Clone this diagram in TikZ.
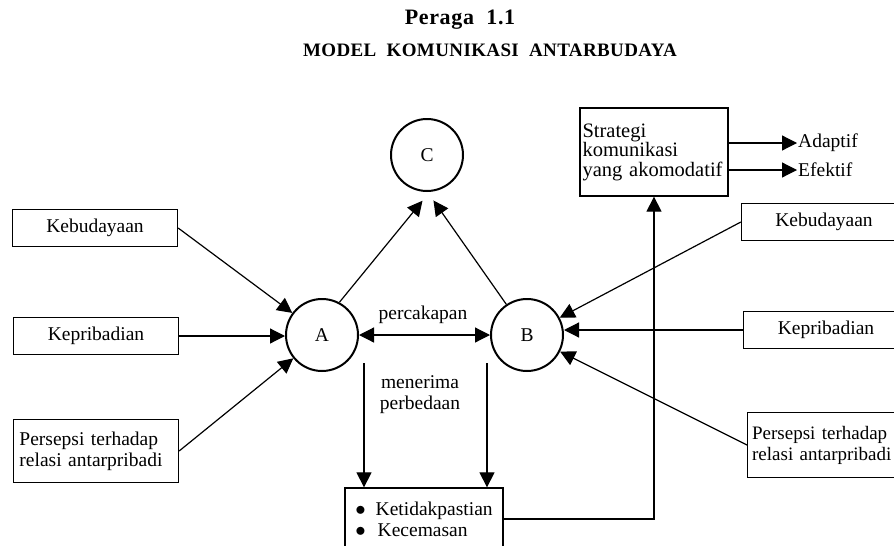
\documentclass[tikz,border=0pt]{standalone}
\usepackage{fontspec}
\setmainfont{Liberation Serif}
\usetikzlibrary{arrows.meta,positioning}

\begin{document}
\begin{tikzpicture}[x=1pt,y=-1pt,
  font=\fontsize{19.5}{21}\selectfont,
  box/.style={draw, line width=1.3pt, minimum width=165pt, minimum height=37pt, inner sep=4pt},
  circ/.style={draw, circle, line width=2pt, minimum size=72pt, inner sep=0pt},
  tip/.style={-{Triangle[length=15pt,width=15pt]}},
  arr/.style={line width=1.2pt, tip},
  lbl/.style={inner sep=1pt}]

\useasboundingbox (0,0) rectangle (894,546);

% Title
\node (ttl) at (460,20) {\fontsize{22}{24}\selectfont\bfseries\addfontfeatures{LetterSpace=3}Peraga\ \ 1.1};
\node (sub) at (490,50) {\fontsize{19}{21}\selectfont\bfseries\addfontfeatures{LetterSpace=2}MODEL\ \ KOMUNIKASI\ \ ANTARBUDAYA};

% Communicators
\node[circ] (C) at (427,155) {C};
\node[circ] (A) at (322,335) {A};
\node[circ] (B) at (527,335) {B};

% Left side boxes
\node[box] (kebL) at (95,228) {Kebudayaan};
\node[box] (kepL) at (96,336) {Kepribadian};
\node[box, minimum height=63pt, align=left, text width=153pt, inner sep=5pt] (perL) at (96,451)
  {Persepsi terhadap\\relasi antarpribadi};

% Right side boxes
\node[box] (kebR) at (824,222) {Kebudayaan};
\node[box] (kepR) at (826,330) {Kepribadian};
\node[box, minimum height=65pt, align=left, text width=156pt, inner sep=3pt, anchor=west,
  font=\fontsize{19}{21}\selectfont] (perR) at (747,445)
  {Persepsi terhadap\\relasi antarpribadi};

% Strategy box and outcomes
\node[box, minimum width=148pt, minimum height=88pt, align=left, text width=143pt, inner sep=2.5pt,
  font=\fontsize{20.5}{19.5}\selectfont] (strat) at (654,152)
  {Strategi\\komunikasi\\yang akomodatif};
\node[lbl, anchor=west] (adp) at (797,143) {Adaptif};
\node[lbl, anchor=west] (efk) at (797,170) {Efektif};

% Uncertainty box
\node[box, minimum width=158pt, minimum height=62pt, align=left] (ket) at (424,519)
  {$\bullet$\hspace{10pt}Ketidakpastian\\$\bullet$\hspace{12pt}Kecemasan};

% Labels
\node[lbl] (lblP) at (423,315) {percakapan};
\node[lbl, align=center] (lblM) at (420,395) {menerima\\perbedaan};

% Arrows into A and B
\draw[arr] (kebL.east) -- (A);
\draw[arr] (kepL.east) -- (A.west |- kepL.east);
\draw[arr] (perL.east) -- (A);
\draw[arr] (kebR.west) -- (B);
\draw[arr] (kepR.west) -- (B.east |- kepR.west);
\draw[arr] (perR.west) -- (B);

% Conversation
\draw[arr, {Triangle[length=15pt,width=15pt]}-{Triangle[length=15pt,width=15pt]}] (A.east) -- (B.west);

% Arrows to C
\draw[arr] (A.62) -- ([yshift=-9pt]C.-97);
\draw[arr] (B.124) -- ([yshift=-9pt]C.-80);

% Arrows down to uncertainty box
\coordinate (a1) at ([xshift=5pt,yshift=-28pt]A.east);
\coordinate (b1) at ([xshift=-3pt,yshift=-28pt]B.west);
\draw[arr] (a1) -- (a1 |- ket.north);
\draw[arr] (b1) -- (b1 |- ket.north);

% Feedback to strategy
\draw[arr] (ket.east) -| (strat.south);
\draw[arr] ([yshift=9pt]strat.east) -- (adp.west |- 0,143);
\draw[arr] ([yshift=-18pt]strat.east) -- (efk.west |- 0,170);

\end{tikzpicture}
\end{document}
